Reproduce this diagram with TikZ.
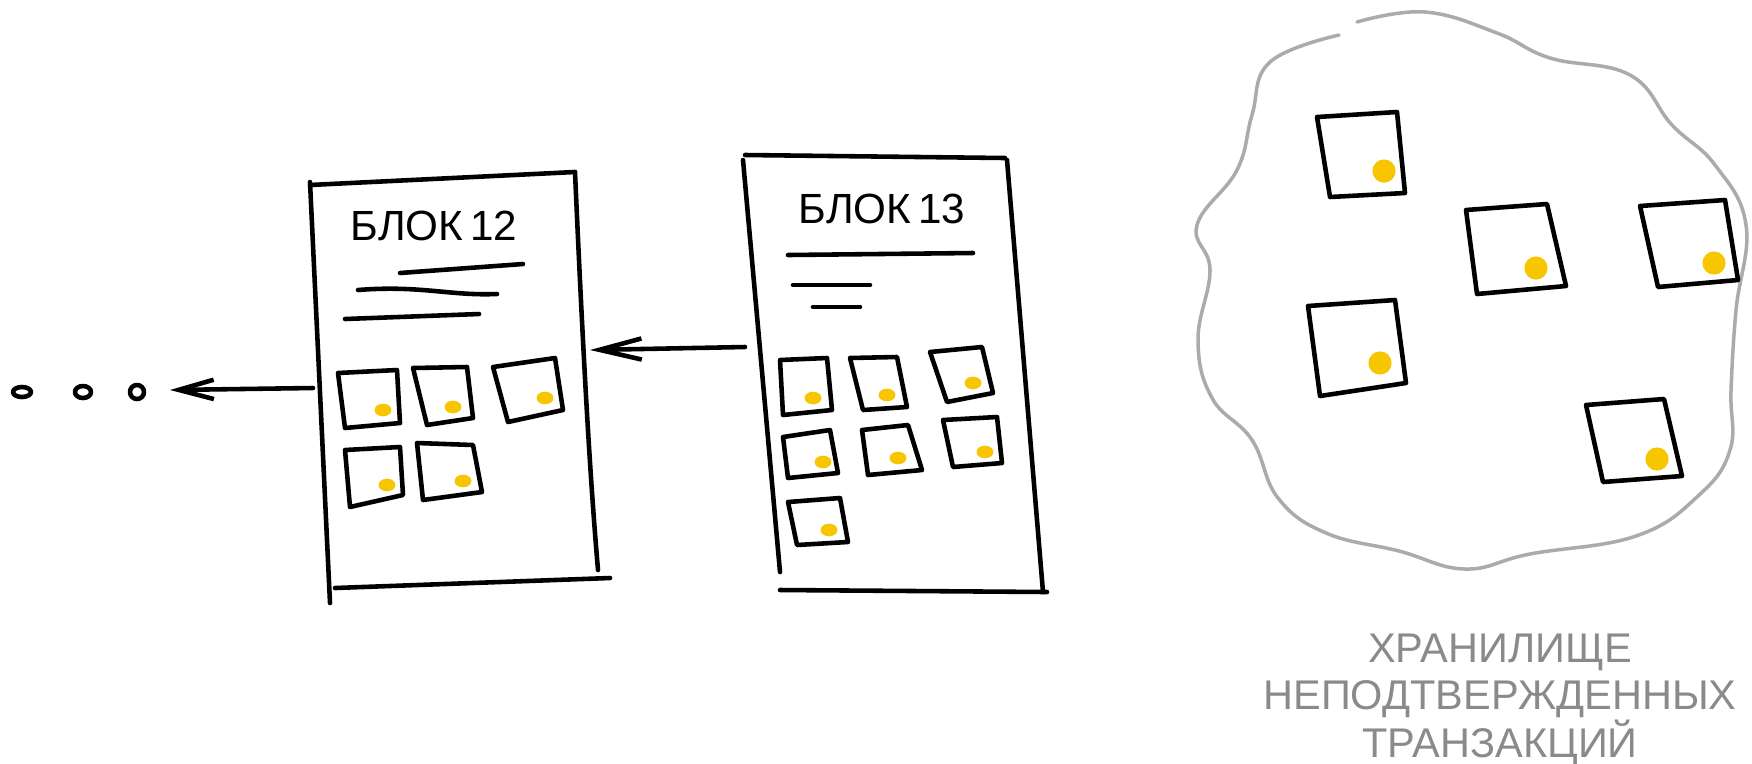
\documentclass[tikz,border=0pt]{standalone}
\usepackage{fontspec}
\setmainfont{Liberation Sans}
\usepackage{tikz}
\usetikzlibrary{positioning,arrows.meta}
\definecolor{coinyellow}{HTML}{F7C600}
\definecolor{poolgray}{HTML}{ABABAB}
\definecolor{labelgray}{HTML}{8A8A8A}
\tikzstyle{ink} = [draw=black, line width=1.3pt, line cap=round, line join=round]
\tikzstyle{coin} = [fill=coinyellow]
\tikzstyle{pool} = [draw=poolgray, line width=1pt, line cap=round]
\tikzstyle{arr} = [ink, -{Straight Barb[length=12pt, width=6pt]}]
\tikzstyle{title} = [font=\fontsize{12}{13.4}\selectfont, inner sep=0pt, anchor=base]
\newcommand{\txcard}[5]{%
  \draw[ink] #1 -- #2 -- #3 -- #4 -- cycle;
  \fill[coin] #5 ellipse (2.4pt and 1.8pt);}
\newcommand{\poolcard}[5]{%
  \draw[ink] #1 -- #2 -- #3 -- #4 -- cycle;
  \fill[coin] #5 circle (3.3pt);}

\begin{document}
\begin{tikzpicture}[x=0.01cm, y=-0.01cm]
\useasboundingbox (0,0) rectangle (1752,763);

% block 12
\draw[ink] (310,185) -- (575,172);
\draw[ink] (310,182) -- (330,603);
\draw[ink] (575,172) .. controls (585,400) and (592,500) .. (598,570);
\draw[ink] (335,588) -- (610,578);
\node[title] (blk12) at (434,240) {БЛОК\,12};
\draw[ink] (400,273) -- (523,264);
\draw[ink] (358,290) .. controls (420,285) and (450,296) .. (497,294);
\draw[ink] (345,319) -- (479,314);
\txcard{(338,373)}{(397,370)}{(400,423)}{(345,428)}{(383,410)}
\txcard{(413,368)}{(467,367)}{(473,418)}{(427,425)}{(453,407)}
\txcard{(493,367)}{(555,358)}{(563,410)}{(508,422)}{(545,398)}
\txcard{(345,450)}{(400,447)}{(403,495)}{(350,507)}{(387,485)}
\txcard{(417,443)}{(473,445)}{(482,492)}{(423,500)}{(463,481)}

% block 13
\draw[ink] (745,155) -- (1005,158);
\draw[ink] (743,160) -- (780,572);
\draw[ink] (1007,160) -- (1043,592);
\draw[ink] (780,590) -- (1047,592);
\node[title] (blk13) at (882,223) {БЛОК\,13};
\draw[ink] (788,255) -- (973,253);
\draw[ink] (793,285) -- (870,285);
\draw[ink] (813,307) -- (860,307);
\txcard{(780,360)}{(827,358)}{(832,410)}{(783,415)}{(813,398)}
\txcard{(850,358)}{(897,357)}{(907,407)}{(863,410)}{(887,395)}
\txcard{(930,352)}{(982,347)}{(993,393)}{(947,402)}{(973,383)}
\txcard{(783,437)}{(830,430)}{(838,473)}{(788,478)}{(823,462)}
\txcard{(862,430)}{(908,425)}{(922,470)}{(868,475)}{(898,458)}
\txcard{(943,420)}{(997,417)}{(1002,463)}{(953,467)}{(985,452)}
\txcard{(788,502)}{(840,498)}{(848,542)}{(797,545)}{(829,530)}

% chain links
\coordinate (b13w) at (745,347);
\coordinate (b12e) at (590,350);
\coordinate (b12w) at (313,388);
\coordinate (more) at (170,390);
\draw[arr] (b13w) -- (b12e);
\draw[arr, -{Straight Barb[length=10pt, width=5.5pt]}] (b12w) -- (more);
\draw[ink] (22,392) ellipse (9 and 5);
\draw[ink] (83,392) ellipse (8 and 6);
\draw[ink] (137,392) ellipse (7 and 7);

% mempool
\draw[pool] plot[smooth, tension=0.7] coordinates {
  (1357,22) (1425,12) (1497,33) (1550,58) (1630,75) (1672,125)
  (1715,165) (1746,225) (1736,310) (1731,390) (1730,450) (1698,496)
  (1636,536) (1530,554) (1465,569) (1399,551) (1326,533) (1278,498)
  (1252,440) (1212,398) (1198,340) (1210,270) (1197,225) (1237,170)
  (1252,115) (1270,62) (1339,35)};
\poolcard{(1317,117)}{(1397,112)}{(1405,193)}{(1330,197)}{(1384,171)}
\poolcard{(1466,210)}{(1547,204)}{(1566,286)}{(1477,294)}{(1536,268)}
\poolcard{(1640,206)}{(1725,200)}{(1738,280)}{(1658,287)}{(1714,263)}
\poolcard{(1308,306)}{(1395,300)}{(1406,383)}{(1320,396)}{(1380,363)}
\poolcard{(1586,405)}{(1664,399)}{(1682,476)}{(1603,482)}{(1657,459)}
\node[title, align=center, text=labelgray, font=\fontsize{11.8}{13.4}\selectfont]
  (poollabel) at (1500,757) {ХРАНИЛИЩЕ\\НЕПОДТВЕРЖДЕННЫХ\\ТРАНЗАКЦИЙ};
\end{tikzpicture}
\end{document}
